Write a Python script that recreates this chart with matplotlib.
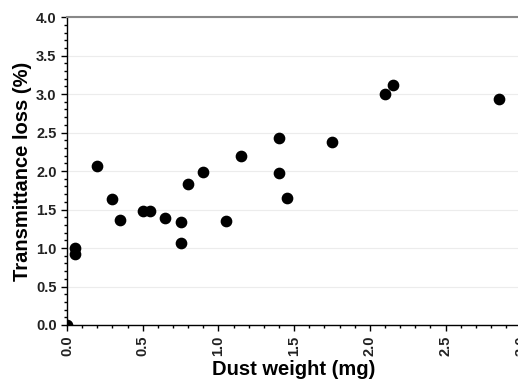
import matplotlib
matplotlib.use('Agg')
import matplotlib.pyplot as plt
from matplotlib.ticker import MultipleLocator

plt.rcParams['font.family'] = ['Liberation Sans', 'DejaVu Sans']
plt.rcParams['font.weight'] = 'bold'

# dust weight (mg) vs transmittance loss (%)
dust = [0.0, 0.05, 0.05, 0.2, 0.3, 0.35, 0.5, 0.55, 0.65, 0.75, 0.75, 0.8,
        0.9, 1.05, 1.15, 1.4, 1.4, 1.45, 1.75, 2.1, 2.15, 2.85]
loss = [0.0, 1.0, 0.92, 2.06, 1.64, 1.37, 1.48, 1.48, 1.39, 1.34, 1.07, 1.83,
        1.99, 1.35, 2.2, 2.43, 1.97, 1.65, 2.38, 3.0, 3.12, 2.93]

fig = plt.figure(figsize=(5.18, 3.81), dpi=100)
ax = fig.add_axes([0.1293, 0.147, 0.877, 0.808])

ax.scatter(dust, loss, s=55, color='black', zorder=3)

ax.set_xlim(0, 3.0)
ax.set_ylim(0, 4.0)
ax.xaxis.set_major_locator(MultipleLocator(0.5))
ax.xaxis.set_minor_locator(MultipleLocator(0.1))
ax.yaxis.set_major_locator(MultipleLocator(0.5))
ax.yaxis.set_minor_locator(MultipleLocator(0.1))
ax.xaxis.set_major_formatter(plt.FormatStrFormatter('%.1f'))
ax.yaxis.set_major_formatter(plt.FormatStrFormatter('%.1f'))

ax.grid(axis='y', which='major', color='#ececec', linewidth=0.8)
ax.set_axisbelow(True)

ax.tick_params(which='both', direction='out', colors='black', labelsize=10.5)
ax.tick_params(which='major', length=4, width=1)
ax.tick_params(which='minor', length=2.5, width=1)
ax.tick_params(axis='x', labelrotation=90)
ax.tick_params(top=False, right=False)

for lab in ax.get_xticklabels() + ax.get_yticklabels():
    lab.set_fontweight('bold')
    lab.set_color('#222222')

ax.spines['left'].set_linewidth(1.0)
ax.spines['bottom'].set_linewidth(1.0)
ax.spines['top'].set_color('#888888')
ax.spines['top'].set_linewidth(1.5)
ax.spines['right'].set_visible(False)

ax.set_xlabel('Dust weight (mg)', fontsize=14.5, fontweight='bold', labelpad=3)
ax.set_ylabel('Transmittance loss (%)', fontsize=14.5, fontweight='bold', labelpad=3)

fig.savefig('out.png', dpi=100)
